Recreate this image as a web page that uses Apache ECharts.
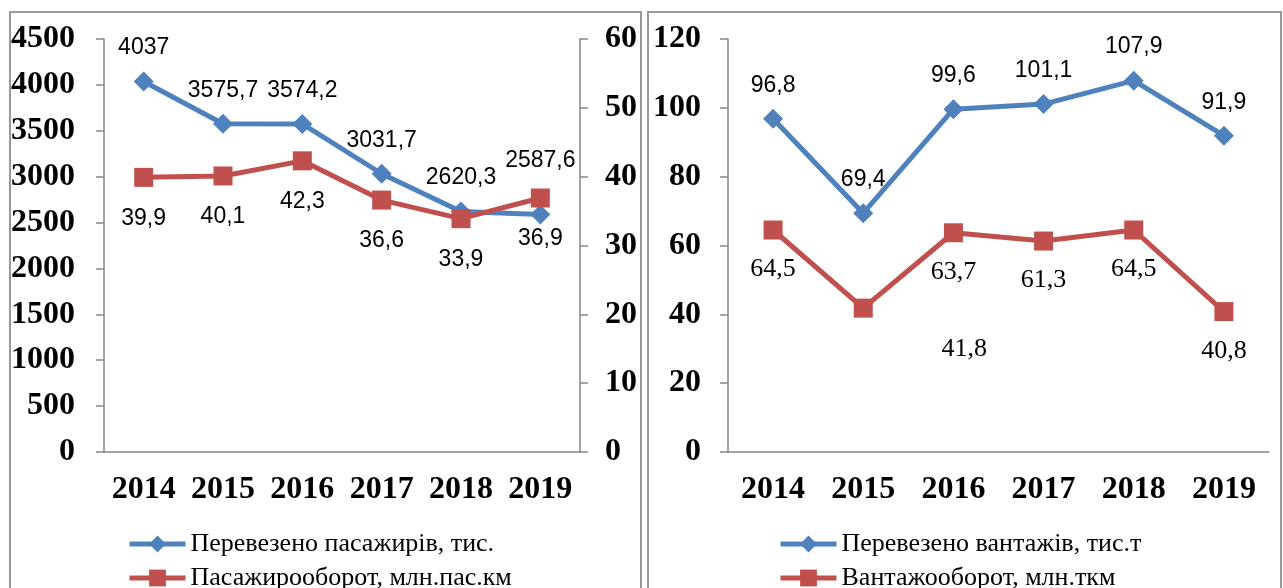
<!DOCTYPE html>
<html>
<head>
<meta charset="utf-8">
<title>Пасажирські та вантажні перевезення</title>
<script src="https://cdn.jsdelivr.net/npm/echarts@6/dist/echarts.min.js"></script>
<style>
  html, body { margin: 0; padding: 0; background: #fff; }
  #chart { width: 1283px; height: 588px; }
</style>
</head>
<body>
<div id="chart"></div>
<script>
// Дані
const years = ["2014", "2015", "2016", "2017", "2018", "2019"];
const passengers = [4037, 3575.7, 3574.2, 3031.7, 2620.3, 2587.6];
const passengerTurnover = [39.9, 40.1, 42.3, 36.6, 33.9, 36.9];
const cargo = [96.8, 69.4, 99.6, 101.1, 107.9, 91.9];
const cargoTurnover = [64.5, 41.8, 63.7, 61.3, 64.5, 40.8];

const names = {
  passengers: "Перевезено пасажирів, тис.",
  passengerTurnover: "Пасажирооборот, млн.пас.км",
  cargo: "Перевезено вантажів, тис.т",
  cargoTurnover: "Вантажооборот, млн.ткм"
};

const BLUE = "#4F81BD";
const RED = "#C0504D";
const AXIS = "#868686";
const SANS = "'Liberation Sans', Arial, sans-serif";
const SERIF = "'Liberation Serif', 'Times New Roman', serif";

// форматування з комою
const fmt = (v) => String(v).replace(".", ",");

// зсуви окремих підписів (як у вихідній діаграмі)
const withShift = (values, shifts) =>
  values.map((v, i) =>
    shifts[i] ? { value: v, label: { offset: shifts[i] } } : v
  );

const chart = echarts.init(document.getElementById("chart"));

const axisFont = {
  color: "#000",
  fontFamily: SERIF,
  fontWeight: "bold",
  fontSize: 32
};

const makeValueAxis = (gridIndex, max, interval, position, margin) => ({
  type: "value",
  gridIndex,
  min: 0,
  max,
  interval,
  position,
  splitLine: { show: false },
  axisLine: { show: true, lineStyle: { color: AXIS, width: 1.5 } },
  axisTick: { show: true, length: 8, lineStyle: { color: AXIS, width: 1.5 } },
  axisLabel: { ...axisFont, margin, formatter: (v) => String(v) }
});

const makeCategoryAxis = (gridIndex) => ({
  type: "category",
  gridIndex,
  data: years,
  boundaryGap: true,
  axisLine: { lineStyle: { color: AXIS, width: 1.5 } },
  axisTick: { length: 10, lineStyle: { color: AXIS, width: 1.5 } },
  axisLabel: { ...axisFont, margin: 22, interval: 0, hideOverlap: false }
});

const blueSeries = (name, data, xAxisIndex, yAxisIndex) => ({
  name,
  type: "line",
  xAxisIndex,
  yAxisIndex,
  data,
  symbol: "diamond",
  symbolSize: 20,
  lineStyle: { color: BLUE, width: 5 },
  itemStyle: { color: BLUE },
  label: {
    show: true,
    position: "top",
    distance: 12,
    color: "#000",
    fontFamily: SANS,
    fontSize: 23,
    formatter: (p) => fmt(p.value)
  }
});

const redSeries = (name, data, xAxisIndex, yAxisIndex, fontFamily, fontSize, distance) => ({
  name,
  type: "line",
  xAxisIndex,
  yAxisIndex,
  data,
  symbol: "rect",
  symbolSize: 19,
  lineStyle: { color: RED, width: 5 },
  itemStyle: { color: RED },
  label: {
    show: true,
    position: "bottom",
    distance,
    color: "#000",
    fontFamily,
    fontSize,
    formatter: (p) => fmt(p.value)
  }
});

const makeLegend = (left, items) => ({
  orient: "vertical",
  left,
  top: 529,
  height: 80,
  padding: 0,
  itemWidth: 56,
  itemHeight: 21,
  itemGap: 4,
  lineStyle: { width: 5 },
  textStyle: {
    color: "#000",
    fontFamily: SERIF,
    fontSize: 26,
    lineHeight: 30
  },
  data: items
});

const option = {
  animation: false,
  backgroundColor: "#fff",
  graphic: [
    {
      type: "rect",
      shape: { x: 10, y: 12, width: 631, height: 600 },
      style: { fill: "none", stroke: "#999", lineWidth: 2 }
    },
    {
      type: "rect",
      shape: { x: 648, y: 12, width: 633, height: 600 },
      style: { fill: "none", stroke: "#999", lineWidth: 2 }
    }
  ],
  legend: [
    makeLegend(127, [names.passengers, names.passengerTurnover]),
    makeLegend(778, [names.cargo, names.cargoTurnover])
  ],
  grid: [
    { left: 104, right: 703, top: 39, bottom: 136 },
    { left: 728, right: 14, top: 39, bottom: 136 }
  ],
  xAxis: [makeCategoryAxis(0), makeCategoryAxis(1)],
  yAxis: [
    makeValueAxis(0, 4500, 500, "left", 29),
    makeValueAxis(0, 60, 10, "right", 25),
    makeValueAxis(1, 120, 20, "left", 27)
  ],
  series: [
    blueSeries(names.passengers, withShift(passengers, { 5: [0, -20] }), 0, 0),
    redSeries(names.passengerTurnover, passengerTurnover, 0, 1, SANS, 23, 20),
    blueSeries(names.cargo, cargo, 1, 2),
    redSeries(names.cargoTurnover, withShift(cargoTurnover, { 1: [101, 2] }), 1, 2, SERIF, 26, 17)
  ]
};

chart.setOption(option);
</script>
</body>
</html>
